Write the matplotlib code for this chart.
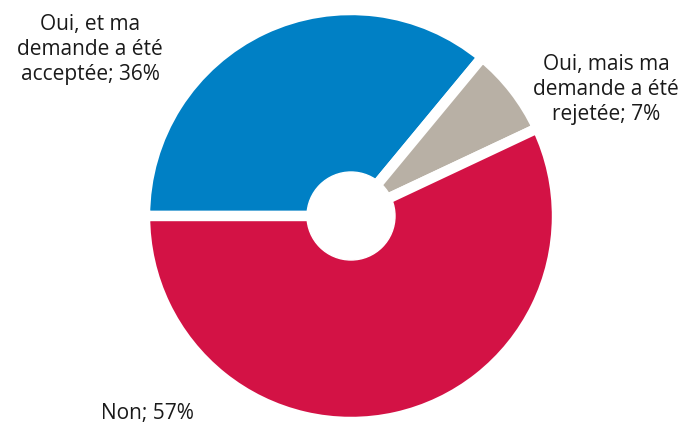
import matplotlib.pyplot as plt
from matplotlib.patches import Circle

labels = ['Oui, et ma\ndemande a été\nacceptée; 36%',
          'Oui, mais ma\ndemande a été\nrejetée; 7%',
          'Non; 57%']
values = [36, 7, 57]
colors = ['#0080C5', '#B8B0A5', '#D31245']

plt.rcParams['font.family'] = ['Open Sans', 'DejaVu Sans']

fig = plt.figure(figsize=(6.84, 4.25), dpi=100)
ax = fig.add_axes([0, 0, 1, 1])

cx, cy, r = 351, 209, 206
ax.pie(values, colors=colors, startangle=180, counterclock=False,
       center=(cx, cy), radius=r, frame=True,
       wedgeprops=dict(edgecolor='white', linewidth=7.5))
ax.add_patch(Circle((cx, cy), 44, color='white', zorder=5))
ax.set_xlim(0, 684)
ax.set_ylim(0, 425)
ax.set_aspect('equal')
ax.axis('off')

# label positions (pixel coords from bottom-left)
pos = [(90, 376), (606, 336), (147, 12)]
for (x, y), t in zip(pos, labels):
    ax.text(x, y, t, ha='center', va='center', fontsize=15,
            color='#1a1a1a', linespacing=1.25)

plt.savefig('out.png', dpi=100)
